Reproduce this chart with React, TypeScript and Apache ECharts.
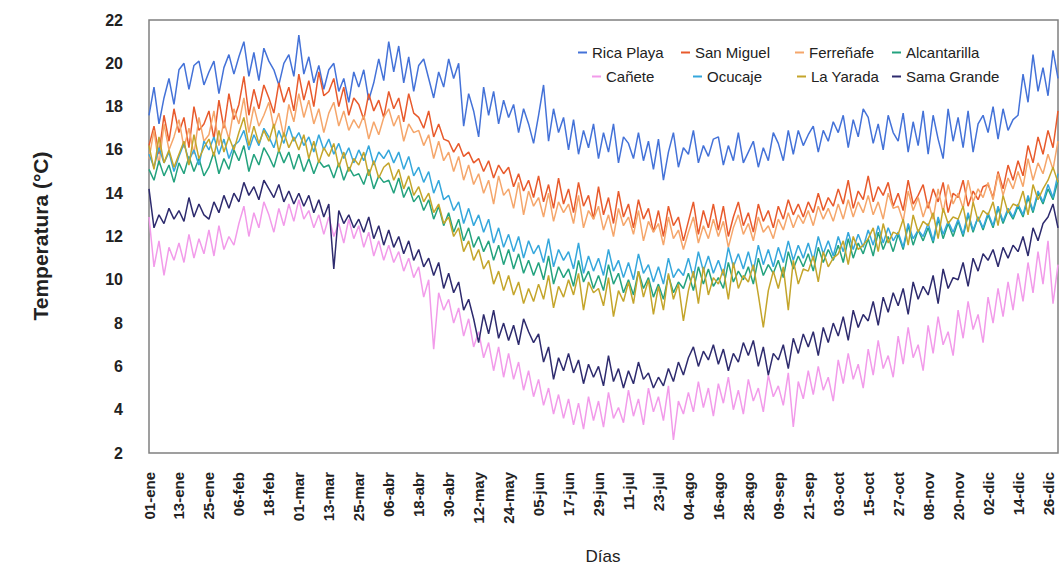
import React, { useEffect, useRef } from "react";
import * as echarts from "echarts";

const tickLabels = ["01-ene","13-ene","25-ene","06-feb","18-feb","01-mar","13-mar","25-mar","06-abr","18-abr","30-abr","12-may","24-may","05-jun","17-jun","29-jun","11-jul","23-jul","04-ago","16-ago","28-ago","09-sep","21-sep","03-oct","15-oct","27-oct","08-nov","20-nov","02-dic","14-dic","26-dic"];

// one point every 2 days, day 0 .. day 364
const days = Array.from({ length: 183 }, (_, i) => String(i * 2));

const ricaPlaya = [
17.6,18.9,17.2,18.4,19.3,18.1, 19.7,20.0,18.8,19.9,20.1,19.0, 19.6,20.1,18.6,19.8,20.4,19.5,
20.3,21.0,19.4,20.5,19.2,20.7, 20.1,19.7,19.0,20.0,20.4,19.4, 21.3,19.5,20.3,19.1,19.9,18.8,
19.7,20.0,18.7,19.3,18.2,19.6, 18.9,19.7,18.3,19.1,20.2,19.2, 21.0,19.6,20.8,19.1,20.3,18.7,
19.9,20.2,19.3,18.4,19.6,18.9, 20.2,19.3,20.0,17.1,18.6,17.8, 16.6,18.9,17.6,18.7,17.2,18.3,
17.5,18.1,16.8,17.9,17.2,16.3, 17.6,19.0,16.4,17.9,16.8,17.5, 16.0,17.4,15.8,16.9,16.1,17.2,
15.6,16.8,15.9,17.2,15.4,16.6, 16.3,15.6,16.8,15.5,16.4,15.1, 16.5,14.6,15.9,16.8,15.2,16.1,
15.8,16.9,15.4,16.2,15.7,16.5, 16.6,15.3,16.2,15.5,16.8,15.4, 15.9,16.4,15.2,16.1,15.5,16.8,
16.3,15.5,16.9,15.8,16.9,16.2, 16.7,17.1,15.9,16.9,16.4,17.3, 16.8,17.6,16.1,17.4,16.6,17.9,
17.5,16.3,17.2,16.0,17.6,16.8, 16.4,17.7,15.9,17.3,16.2,17.8, 15.8,17.6,16.5,15.6,17.9,16.4,
17.5,16.1,17.8,15.9,17.2,17.6, 16.8,18.0,16.5,17.9,16.9,17.4, 17.6,19.5,18.2,20.4,18.7,19.8,
18.5,20.6,19.3];

const sanMiguel = [
16.2,17.1,15.8,17.6,16.4,17.9, 16.8,17.5,16.1,18.0,16.9,17.2, 17.8,16.5,18.3,17.0,18.6,17.4,
18.1,19.4,17.6,18.8,17.9,19.0, 18.4,17.7,19.1,18.2,18.9,17.8, 19.5,18.3,19.2,18.0,19.6,18.5,
18.7,19.3,18.0,18.9,17.6,18.4, 18.1,17.4,18.6,17.8,18.3,17.5, 18.7,17.9,18.4,17.3,18.6,17.7,
17.5,17.0,17.8,16.6,17.2,16.5, 16.4,15.9,16.3,15.7,15.9,15.4, 15.6,15.0,15.5,14.7,15.3,14.9,
15.2,14.3,14.9,14.1,14.6,13.8, 14.8,13.6,14.4,13.3,14.7,13.5, 14.2,13.1,14.5,13.4,13.9,12.8,
14.3,13.0,13.8,12.6,14.1,12.9, 13.5,12.4,13.7,12.8,13.3,12.2, 13.2,12.0,13.4,12.5,12.9,11.8,
12.7,13.6,12.1,13.2,12.4,13.5, 12.3,13.4,12.0,12.9,13.6,12.5, 13.1,12.2,13.5,12.7,13.2,12.4,
13.4,12.8,13.7,13.0,13.5,12.9, 13.6,13.1,14.0,13.2,13.8,13.4, 14.2,13.5,14.6,13.3,14.1,13.7,
14.8,13.6,14.3,13.9,14.5,13.4, 14.0,13.2,14.6,13.5,13.9,14.4, 13.3,14.2,13.6,14.5,13.1,14.0,
13.8,14.6,13.4,14.1,13.7,14.3, 14.4,13.8,15.0,14.2,15.3,14.6, 15.5,14.8,16.2,15.4,16.6,15.8,
16.9,16.1,17.8];

const ferrenafe = [
15.6,16.9,15.3,17.2,16.0,16.6, 17.4,16.1,17.0,15.8,17.5,16.4, 16.7,17.8,16.2,17.3,16.5,17.9,
17.2,18.4,16.8,18.0,17.1,17.6, 18.2,17.0,17.7,16.6,18.1,17.3, 18.6,17.5,18.3,17.2,17.9,16.8,
17.7,18.2,17.1,17.8,16.9,17.4, 17.0,17.6,16.5,17.3,16.7,17.5, 17.9,17.1,17.6,16.4,17.2,16.8,
16.9,16.2,16.7,15.6,16.4,15.5, 15.9,15.0,15.7,14.6,15.3,14.4, 14.9,14.0,14.6,13.5,14.8,13.9,
14.2,13.3,14.5,13.0,14.1,13.4, 13.8,12.9,14.0,12.7,13.6,13.1, 13.5,12.6,13.9,12.4,13.2,12.8,
13.4,12.3,13.0,12.0,13.3,12.5, 12.9,12.1,13.2,11.8,12.7,12.2, 12.6,11.6,12.9,11.9,12.3,11.4,
12.2,12.9,11.7,12.5,11.9,12.8, 12.0,12.7,11.5,12.4,13.0,12.1, 12.6,11.8,12.9,12.2,12.5,11.9,
12.8,12.3,13.1,12.4,13.0,12.6, 13.2,12.5,13.4,12.8,13.3,12.7, 13.5,12.8,13.7,12.9,13.6,13.1,
13.9,13.0,13.6,12.8,14.0,13.3, 13.4,12.7,14.1,13.2,13.8,12.9, 13.6,12.8,14.2,13.1,14.4,13.5,
14.0,13.3,14.6,13.6,14.2,13.8, 14.5,13.7,14.9,13.9,14.7,14.2, 15.0,14.3,15.6,14.6,15.4,14.9,
15.8,15.1,16.4];

const alcantarilla = [
15.1,14.6,15.5,14.8,15.3,14.5, 15.4,14.9,15.7,15.0,15.6,14.8, 15.2,15.9,14.9,15.6,15.1,16.0,
15.5,16.2,15.0,15.8,15.3,16.1, 15.7,15.2,16.0,15.4,15.9,15.1, 15.8,15.0,15.6,14.9,15.5,15.2,
15.3,14.7,15.4,14.6,15.2,14.8, 14.9,14.4,15.1,14.2,14.8,14.5, 14.6,14.0,14.7,13.8,14.3,13.6,
13.9,13.2,13.7,12.8,13.4,12.5, 13.1,12.2,12.8,11.8,12.4,11.5, 12.0,11.3,11.8,10.9,11.6,10.7,
11.4,10.5,11.2,10.3,10.9,10.2, 10.8,10.0,11.1,9.8,10.6,10.1, 10.5,9.7,10.9,9.9,10.4,9.6,
10.2,9.5,10.7,9.8,10.3,9.4, 10.0,9.3,10.4,9.6,10.1,9.2, 9.8,9.1,10.2,9.4,9.9,9.6,
10.3,9.5,10.6,9.8,10.5,9.7, 10.1,9.6,10.8,9.9,10.4,10.0, 10.6,9.8,11.0,10.2,10.7,10.3,
10.9,10.1,11.3,10.5,11.1,10.6, 11.2,10.4,11.5,10.8,11.4,10.9, 11.6,10.8,11.9,11.0,11.7,11.2,
11.9,11.1,12.2,11.4,12.0,11.3, 12.1,11.4,12.5,11.6,12.3,11.8, 12.4,11.7,12.8,11.9,12.6,12.0,
12.7,12.0,13.0,12.2,12.9,12.3, 13.0,12.4,13.3,12.6,13.2,12.8, 13.4,12.9,13.8,13.1,14.0,13.5,
14.2,13.7,14.6];

const canete = [
12.9,10.6,11.8,10.2,11.5,10.9, 11.7,10.8,12.1,11.0,11.9,11.2, 12.3,11.1,12.5,11.4,12.0,11.6,
12.6,13.4,12.0,13.1,12.4,13.6, 13.0,12.2,13.3,12.5,13.5,12.7, 13.7,12.8,13.2,12.4,13.0,12.1,
12.9,12.0,12.6,11.7,12.8,11.9, 12.5,11.5,12.2,11.1,11.8,10.9, 11.6,10.8,11.3,10.4,11.0,10.1,
10.6,9.2,10.0,6.8,9.4,8.6, 9.1,8.0,8.7,7.4,8.2,6.9, 7.6,6.4,7.1,5.8,6.9,5.5,
6.6,5.4,6.2,4.9,5.8,4.6, 5.4,4.2,5.0,3.8,4.7,3.6, 4.5,3.3,4.3,3.1,4.6,3.5,
4.4,3.2,4.8,3.6,4.1,3.4, 4.9,3.7,4.5,3.3,5.0,3.9, 4.6,3.5,5.1,2.6,4.4,3.8,
4.8,3.9,5.3,4.1,5.0,3.7, 5.2,4.3,5.5,4.0,4.9,3.8, 5.4,4.4,5.0,3.9,5.6,4.6,
5.1,4.2,5.7,3.2,5.3,4.5, 5.8,4.7,6.0,4.9,5.5,4.4, 6.3,5.2,6.6,5.4,6.1,5.0,
6.8,5.6,7.2,5.9,6.5,5.5, 7.4,6.1,7.8,6.4,7.0,5.8, 7.9,6.6,8.3,7.0,7.6,6.5,
8.6,7.3,9.0,7.7,8.4,7.1, 9.2,8.0,9.6,8.3,9.9,8.6, 10.3,9.0,10.8,9.4,11.3,9.8,
11.8,8.9,10.7];

const ocucaje = [
15.8,15.2,16.1,15.4,15.9,15.0, 15.7,16.3,15.5,16.0,15.3,16.4, 16.0,16.6,15.8,16.5,15.6,16.2,
16.4,16.9,16.0,16.7,16.2,17.0, 16.6,16.1,16.9,16.3,17.1,16.4, 16.8,16.2,16.6,15.9,16.7,16.0,
16.5,15.8,16.3,15.6,16.1,15.4, 16.0,15.5,16.2,15.3,15.9,15.6, 16.0,15.4,15.9,15.1,15.7,14.8,
15.2,14.5,15.0,14.0,14.6,13.7, 13.9,13.2,13.6,12.6,13.3,12.5, 13.0,12.2,12.8,11.7,12.4,11.5,
12.1,11.3,12.0,11.0,11.8,11.2, 11.6,10.8,11.9,10.6,11.4,10.9, 11.3,10.5,11.7,10.3,11.1,10.4,
11.0,10.2,11.4,10.4,10.9,10.1, 10.8,10.0,11.2,10.3,10.7,9.9, 10.6,9.8,11.0,10.1,10.5,10.2,
11.0,10.1,11.3,10.4,11.1,10.3, 10.9,10.2,11.5,10.6,11.2,10.5, 11.3,10.4,11.6,10.7,11.4,10.6,
11.5,10.8,11.8,10.9,11.6,11.0, 11.7,10.9,12.0,11.2,11.8,11.1, 12.0,11.3,12.2,11.4,12.1,11.5,
12.3,11.6,12.5,11.7,12.4,11.8, 12.2,11.5,12.6,11.9,12.3,12.0, 12.6,11.8,12.9,12.1,12.7,12.2,
12.8,12.1,13.1,12.3,12.9,12.4, 13.1,12.5,13.4,12.7,13.3,12.9, 13.5,13.0,13.9,13.2,14.1,13.6,
14.4,13.8,14.9];

const laYarada = [
16.2,15.1,16.6,15.4,16.0,15.2, 15.8,16.4,15.3,16.7,15.6,16.1, 16.5,15.7,16.9,15.9,16.6,16.0,
16.8,17.5,16.2,17.1,16.3,16.9, 16.4,17.2,15.9,16.8,16.1,16.6, 16.0,16.7,15.6,16.4,15.4,16.1,
15.7,16.3,15.2,15.9,15.0,15.6, 15.3,15.9,14.8,15.5,14.7,15.2, 15.4,14.6,15.1,14.2,14.8,13.9,
14.3,13.6,14.0,13.1,13.5,12.6, 12.9,12.0,12.4,11.3,11.8,10.9, 11.4,10.5,10.9,9.8,10.4,9.5,
10.2,9.3,9.9,8.9,9.6,9.0, 9.8,9.1,10.2,8.7,9.7,9.2, 10.0,9.3,10.3,8.6,9.9,9.4,
9.6,8.8,10.1,8.3,9.5,9.0, 9.9,8.9,10.4,9.2,10.0,8.4, 9.7,8.6,10.3,9.1,9.8,8.1,
9.5,10.4,8.9,10.6,9.3,10.1, 9.8,10.5,9.1,10.8,9.6,10.2, 9.9,10.7,9.3,7.8,9.5,10.4,
9.6,10.6,8.6,10.9,9.8,10.5, 10.4,11.1,9.9,11.3,10.6,11.0, 11.2,11.8,10.7,12.0,11.4,11.6,
11.9,12.4,11.3,12.6,11.7,12.2, 12.1,12.8,11.6,13.0,12.2,12.7, 12.5,13.1,11.9,13.3,12.6,12.9,
12.8,13.4,12.2,13.6,12.7,13.2, 13.0,13.6,12.5,13.9,13.1,13.5, 13.4,14.1,13.0,14.4,13.7,14.2,
14.6,15.2,14.5];

const samaGrande = [
14.2,12.4,13.0,12.6,13.3,12.8, 13.2,12.7,13.8,12.9,13.5,13.0, 12.8,13.6,13.1,13.9,13.3,14.0,
13.6,14.5,13.9,14.3,13.7,14.6, 14.2,13.8,14.4,13.6,14.1,13.5, 14.0,13.4,13.9,13.1,13.7,12.9,
13.5,10.5,13.2,12.6,13.0,12.4, 12.8,12.2,12.9,11.9,12.5,11.6, 12.3,11.5,12.0,11.2,11.8,10.9,
11.4,10.6,11.0,10.2,10.8,9.6, 10.3,9.4,9.9,8.6,9.1,8.2, 7.1,8.4,7.5,8.6,7.3,8.0,
7.2,7.9,7.0,8.2,7.6,7.1, 7.5,6.2,6.9,5.4,6.4,5.8, 6.6,5.7,6.3,5.2,6.1,5.5,
6.0,5.1,6.5,5.3,5.9,5.0, 5.8,5.2,6.2,5.4,5.7,5.0, 5.5,5.1,5.9,5.3,6.2,5.6,
6.4,6.9,6.0,6.7,6.3,7.0, 6.1,6.8,5.8,6.6,6.2,7.1, 6.5,7.2,6.0,6.9,5.6,6.6,
6.3,7.0,5.9,7.3,6.6,7.5, 6.9,7.6,6.5,7.8,7.1,8.0, 7.4,8.3,7.2,8.6,7.8,8.4,
8.1,9.0,7.9,9.2,8.5,9.4, 8.8,9.6,8.4,9.9,9.1,9.7, 9.3,10.2,8.9,10.5,9.6,10.1,
10.0,10.8,9.7,11.0,10.4,11.2, 10.9,11.4,10.6,11.5,11.0,11.6, 11.3,12.0,11.1,12.4,11.8,12.6,
12.9,13.5,12.4];

const seriesNames = ["Rica Playa","San Miguel","Ferreñafe","Alcantarilla","Cañete","Ocucaje","La Yarada","Sama Grande"];
const seriesData = [ricaPlaya, sanMiguel, ferrenafe, alcantarilla, canete, ocucaje, laYarada, samaGrande];
const seriesColors = ["#4472D8","#E85A2C","#F5A66B","#23A27E","#F29BEA","#35A7DC","#C4A52B","#2E2B6E"];

// legend placement (left of icon, top)
const legendPos = [[578,45],[681,45],[795,45],[892,45],[592,69],[693,69],[797,69],[892,69]];

const FONT = "'Liberation Sans', Arial, sans-serif";

export default function App() {
  const ref = useRef<HTMLDivElement>(null);
  useEffect(() => {
    if (!ref.current) return;
    const chart = echarts.init(ref.current, null, { renderer: "svg" });
    chart.setOption({
      animation: false,
      backgroundColor: "#ffffff",
      textStyle: { fontFamily: FONT },
      grid: {
        left: 149, right: 6, top: 20, bottom: 119,
        show: true, borderColor: "#808080", borderWidth: 1.5, backgroundColor: "transparent",
      },
      legend: seriesNames.map((n, i) => ({
        data: [n],
        left: legendPos[i][0],
        top: legendPos[i][1],
        padding: 0,
        icon: "rect",
        itemWidth: 9,
        itemHeight: 2,
        selectedMode: false,
        textStyle: { fontFamily: FONT, fontSize: 15, color: "#222" },
      })),
      xAxis: {
        type: "category",
        data: days,
        boundaryGap: false,
        axisLine: { show: false },
        axisTick: { show: false },
        splitLine: { show: false },
        axisLabel: {
          interval: 5,
          rotate: 90,
          margin: 19,
          fontSize: 15,
          fontWeight: "bold",
          color: "#222",
          fontFamily: FONT,
          formatter: (_v: string, idx: number) => tickLabels[idx / 6] ?? "",
        },
      },
      yAxis: {
        type: "value",
        min: 2,
        max: 22,
        interval: 2,
        axisLine: { show: false },
        axisTick: { show: false },
        splitLine: { show: false },
        axisLabel: { margin: 26, fontSize: 16, fontWeight: "bold", color: "#222", fontFamily: FONT },
      },
      graphic: [
        {
          type: "text",
          x: 40, y: 236,
          rotation: Math.PI / 2,
          style: { text: "Temperatura (°C)", font: `bold 21px ${FONT}`, fill: "#222", textAlign: "center", textVerticalAlign: "middle" },
        },
        {
          type: "text",
          x: 603, y: 556,
          style: { text: "Días", font: `17px ${FONT}`, fill: "#222", textAlign: "center", textVerticalAlign: "middle" },
        },
      ],
      series: seriesNames.map((n, i) => ({
        name: n,
        type: "line",
        data: seriesData[i],
        showSymbol: false,
        symbol: "none",
        lineStyle: { width: 1.5, color: seriesColors[i] },
        itemStyle: { color: seriesColors[i] },
      })),
    });
    return () => chart.dispose();
  }, []);
  return <div ref={ref} style={{ position: "fixed", left: 0, top: 0, width: 1064, height: 572 }} />;
}
